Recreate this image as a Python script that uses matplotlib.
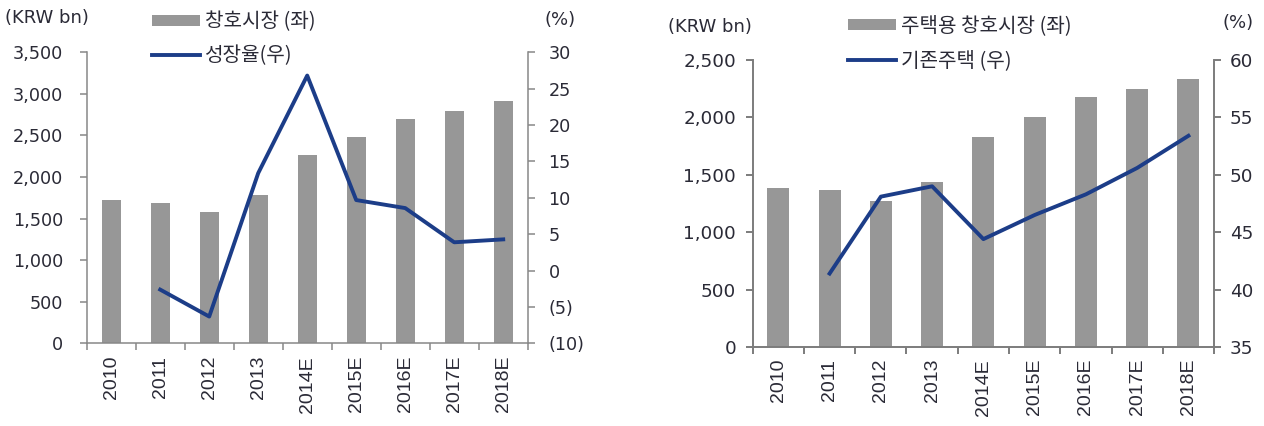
import matplotlib
matplotlib.use("Agg")
import matplotlib.pyplot as plt
from matplotlib.ticker import FuncFormatter, FixedLocator

plt.rcParams['font.family'] = ['DejaVu Sans', 'Noto Sans CJK KR']

# data
years = ["2010", "2011", "2012", "2013", "2014E", "2015E", "2016E", "2017E", "2018E"]

# left chart: window market (KRW bn) and growth rate (%)
market = [1730, 1690, 1577, 1786, 2262, 2483, 2696, 2800, 2917]
growth_years = years[1:]
growth = [-2.6, -6.3, 13.4, 26.8, 9.7, 8.6, 3.9, 4.3]

# right chart: residential window market (KRW bn) and existing housing share (%)
res_market = [1384, 1364, 1268, 1434, 1833, 2005, 2177, 2250, 2337]
exist_years = years[1:]
exist_share = [41.4, 48.1, 49.0, 44.4, 46.5, 48.3, 50.6, 53.4]

bar_color = '#979797'
line_color = '#1c3d88'
text_color = '#2a2a36'
kr_font = ['Noto Sans CJK KR', 'DejaVu Sans']

fig = plt.figure(figsize=(12.64, 4.26), dpi=100)


def style_axes(ax, ax2, spine_color, spine_w, ysize, ypad, ypad2, xpad):
    ax.spines['top'].set_visible(False)
    ax2.spines['top'].set_visible(False)
    for s in ['left', 'bottom']:
        ax.spines[s].set_color(spine_color)
        ax.spines[s].set_linewidth(spine_w)
        ax2.spines[s].set_visible(False)
    ax.spines['right'].set_visible(False)
    ax2.spines['right'].set_color(spine_color)
    ax2.spines['right'].set_linewidth(spine_w)
    ax.set_xlim(-0.5, len(years) - 0.5)
    ax.set_xticks(range(len(years)))
    ax.set_xticklabels(years, rotation=90, family='Liberation Sans', fontsize=14)
    ax.xaxis.set_minor_locator(FixedLocator([i - 0.5 for i in range(len(years) + 1)]))
    ax.tick_params(axis='x', which='major', length=0, pad=xpad, labelcolor=text_color)
    ax.tick_params(axis='x', which='minor', length=5, color=spine_color, width=spine_w)
    ax.tick_params(axis='y', length=5, color=spine_color, width=spine_w, pad=ypad,
                   labelsize=ysize, labelcolor=text_color)
    ax2.tick_params(axis='y', length=5, color=spine_color, width=spine_w, pad=ypad2,
                    labelsize=ysize, labelcolor=text_color)


def add_legend(handle, label, x, y, fs):
    leg = fig.legend([handle], [label], loc='center left', bbox_to_anchor=(x, y),
                     frameon=False, prop={'family': kr_font, 'size': fs},
                     handlelength=2.4, handleheight=0.42, handletextpad=0.22,
                     borderpad=0, borderaxespad=0)
    for t in leg.get_texts():
        t.set_color(text_color)
    return leg


x = list(range(len(years)))

# ---- left chart
ax = fig.add_axes([0.0686, 0.1937, 0.3489, 0.6836])
ax2 = ax.twinx()
bars = ax.bar(x, market, width=0.39, color=bar_color)
gx = [years.index(y) for y in growth_years]
line, = ax2.plot(gx, growth, color=line_color, lw=2.8)
ax.set_ylim(0, 3500)
ax.set_yticks(range(0, 3501, 500))
ax.yaxis.set_major_formatter(FuncFormatter(lambda v, p: f"{int(v):,}"))
ax2.set_ylim(-10, 30)
ax2.set_yticks(range(-10, 31, 5))
ax2.yaxis.set_major_formatter(FuncFormatter(lambda v, p: f"({abs(int(v))})" if v < 0 else f"{int(v)}"))
style_axes(ax, ax2, '#888888', 1.1, 12.7, 12, 10, 9)
fig.text(5 / 1264, 1 - 18 / 426, "(KRW bn)", fontsize=13, color=text_color, va='center')
fig.text(545 / 1264, 1 - 20 / 426, "(%)", fontsize=13, color=text_color, va='center')
add_legend(bars, '창호시장 (좌)', 152 / 1264, 1 - 22 / 426, 14.5)
add_legend(line, '성장율(우)', 152 / 1264, 1 - 56 / 426, 14.5)

# ---- right chart
bx = fig.add_axes([0.5955, 0.1854, 0.3650, 0.6737])
bx2 = bx.twinx()
bars2 = bx.bar(x, res_market, width=0.43, color=bar_color)
ex = [years.index(y) for y in exist_years]
line2, = bx2.plot(ex, exist_share, color=line_color, lw=2.8)
bx.set_ylim(0, 2500)
bx.set_yticks(range(0, 2501, 500))
bx.yaxis.set_major_formatter(FuncFormatter(lambda v, p: f"{int(v):,}"))
bx2.set_ylim(35, 60)
bx2.set_yticks(range(35, 61, 5))
style_axes(bx, bx2, '#7c7c7c', 1.4, 13.2, 7, 6.5, 8.6)
fig.text(668 / 1264, 1 - 27 / 426, "(KRW bn)", fontsize=13, color=text_color, va='center')
fig.text(1223 / 1264, 1 - 23 / 426, "(%)", fontsize=13, color=text_color, va='center')
add_legend(bars2, '주택용 창호시장 (좌)', 848 / 1264, 1 - 26 / 426, 14.5)
add_legend(line2, '기존주택 (우)', 848 / 1264, 1 - 61 / 426, 14.5)

fig.savefig("out.png", dpi=100)
